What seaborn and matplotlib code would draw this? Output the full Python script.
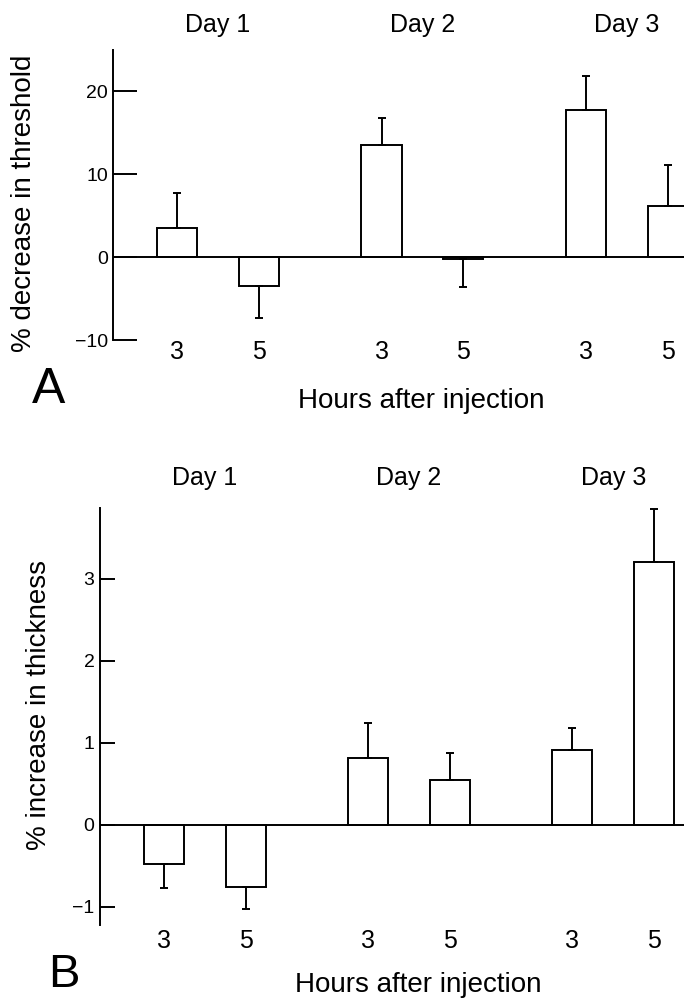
import matplotlib
matplotlib.use("Agg")
import matplotlib.pyplot as plt
import matplotlib.transforms as mtransforms
import seaborn as sns
import pandas as pd

# Dados (media e erro padrao)
days = ['Day 1', 'Day 2', 'Day 3']
hours = ['3', '5']
threshold_mean = [3.5, -3.5, 13.5, -0.2, 17.7, 6.2]
threshold_err = [4.25, 3.8, 3.25, 3.4, 4.1, 4.9]
thickness_mean = [-0.48, -0.76, 0.81, 0.55, 0.91, 3.2]
thickness_err = [0.29, 0.27, 0.43, 0.33, 0.27, 0.65]

sns.set_style("white")
plt.rcParams['font.family'] = ['Liberation Sans', 'DejaVu Sans']
plt.rcParams['axes.unicode_minus'] = True
# texto e ticks em preto (o estilo do seaborn usa cinza escuro)
for chave in ['text.color', 'xtick.color', 'ytick.color', 'axes.labelcolor', 'axes.edgecolor']:
    plt.rcParams[chave] = 'black'

LW = 1.4


def painel(fig, rect, means, errs, ylim, yticks, xlim, tick_len, ypad, xpad, day_y):
    ax = fig.add_axes(rect)
    df = pd.DataFrame({
        'day': [d for d in days for _ in hours],
        'hour': hours * len(days),
        'value': means,
    })
    sns.barplot(data=df, x='day', y='value', hue='hour', order=days, hue_order=hours,
                palette={h: 'white' for h in hours}, edgecolor='black', linewidth=LW,
                width=0.8, gap=0.51, errorbar=None, legend=False, ax=ax)

    # barras ordenadas pela posicao x (mesma ordem dos dados)
    bars = sorted(ax.patches, key=lambda p: p.get_x())
    centros = [p.get_x() + p.get_width() / 2 for p in bars]
    baixo = [e if m < 0 else 0 for m, e in zip(means, errs)]
    cima = [e if m >= 0 else 0 for m, e in zip(means, errs)]
    ax.errorbar(centros, means, yerr=[baixo, cima], fmt='none', ecolor='black',
                elinewidth=LW, capsize=3.2, capthick=LW, zorder=1)
    ax.axhline(0, color='black', lw=LW, zorder=3)

    ax.set_xlim(*xlim)
    ax.set_ylim(*ylim)
    ax.set_yticks(yticks)
    ax.set_xticks(centros, labels=hours * len(days))
    ax.tick_params(axis='y', direction='in', length=tick_len, width=LW,
                   labelsize=14, pad=ypad, left=True, colors='black')
    ax.tick_params(axis='x', length=0, labelsize=18, pad=xpad, colors='black')
    ax.set_xlabel('')
    ax.set_ylabel('')
    for s in ['top', 'right', 'bottom']:
        ax.spines[s].set_visible(False)
    ax.spines['left'].set_linewidth(LW)
    ax.spines['left'].set_color('black')

    trans = mtransforms.blended_transform_factory(ax.transData, fig.transFigure)
    for i, d in enumerate(days):
        ax.text(i, day_y, d, transform=trans, ha='center', va='top', fontsize=18,
                color='black')
    return ax


fig = plt.figure(figsize=(6.84, 10.01), dpi=100)

# Painel A
painel(fig, [0.1652, 0.660, 0.8348, 0.2902], threshold_mean, threshold_err,
       (-10, 25), [-10, 0, 10, 20], (-0.513, 2.279), 17, 3.5, 0, 0.9867)
fig.text(0.035, 0.797, '% decrease in threshold', rotation=90, ha='center',
         va='center', fontsize=20, color='black')
fig.text(0.616, 0.6124, 'Hours after injection', ha='center', va='top', fontsize=20,
         color='black')
fig.text(0.0468, 0.6334, 'A', ha='left', va='top', fontsize=36, color='black')

# Painel B
painel(fig, [0.1462, 0.0762, 0.8538, 0.4161], thickness_mean, thickness_err,
       (-1.22, 3.86), [-1, 0, 1, 2, 3], (-0.513, 2.346), 11, 4, 2.9, 0.5345)
fig.text(0.0577, 0.2957, '% increase in thickness', rotation=90, ha='center',
         va='center', fontsize=20, color='black')
fig.text(0.611, 0.029, 'Hours after injection', ha='center', va='top', fontsize=20,
         color='black')
fig.text(0.070, 0.048, 'B', ha='left', va='top', fontsize=34, color='black')

fig.savefig('out.png', dpi=100)
